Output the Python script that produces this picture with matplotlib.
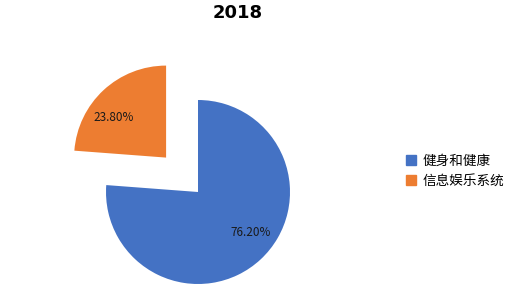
import matplotlib.pyplot as plt
from matplotlib.lines import Line2D
import numpy as np

plt.rcParams['font.family'] = ['Noto Sans CJK SC', 'DejaVu Sans']

title = "2018"
labels = ["健身和健康", "信息娱乐系统"]
shares = [76.2, 23.8]
colors = ["#4472C4", "#ED7D31"]
explode = [0, 0.51]

fig = plt.figure(figsize=(5.12, 2.93), dpi=100)
ax = fig.add_axes([0, 0, 1, 1])

# 1 unit = 92 px, pie centre at (198, 192) px from top-left
r = 92.0

wedges, texts, autotexts = ax.pie(shares, colors=colors, explode=explode,
                                  startangle=90, counterclock=False,
                                  autopct='%.2f%%', pctdistance=0.72,
                                  textprops={'fontsize': 8.5, 'color': '#1a1a1a'},
                                  frame=True)

# label placement like the office chart: rotated a bit off the bisector
for w, t in zip(wedges, autotexts):
    cx, cy = w.center
    mid = np.deg2rad((w.theta1 + w.theta2) / 2 + 10)
    t.set_position((cx + 0.72 * np.cos(mid), cy + 0.72 * np.sin(mid)))

ax.set_xlim(-198 / r, (512 - 198) / r)
ax.set_ylim(-(293 - 192) / r, 192 / r)
ax.set_aspect('auto')
ax.axis('off')

fig.text(238 / 512, 1 - 13 / 293, title, ha='center', va='center',
         fontsize=13, fontweight='bold', family='DejaVu Sans')

handles = [Line2D([], [], marker='s', linestyle='none', markersize=7,
                  markerfacecolor=c, markeredgecolor=c) for c in colors]
fig.legend(handles, labels, loc='center left',
           bbox_to_anchor=(393 / 512, 1 - 171 / 293), frameon=False,
           fontsize=9.8, handlelength=0.8, handletextpad=0.45, labelspacing=0.45)

fig.savefig("out.png", dpi=100)
